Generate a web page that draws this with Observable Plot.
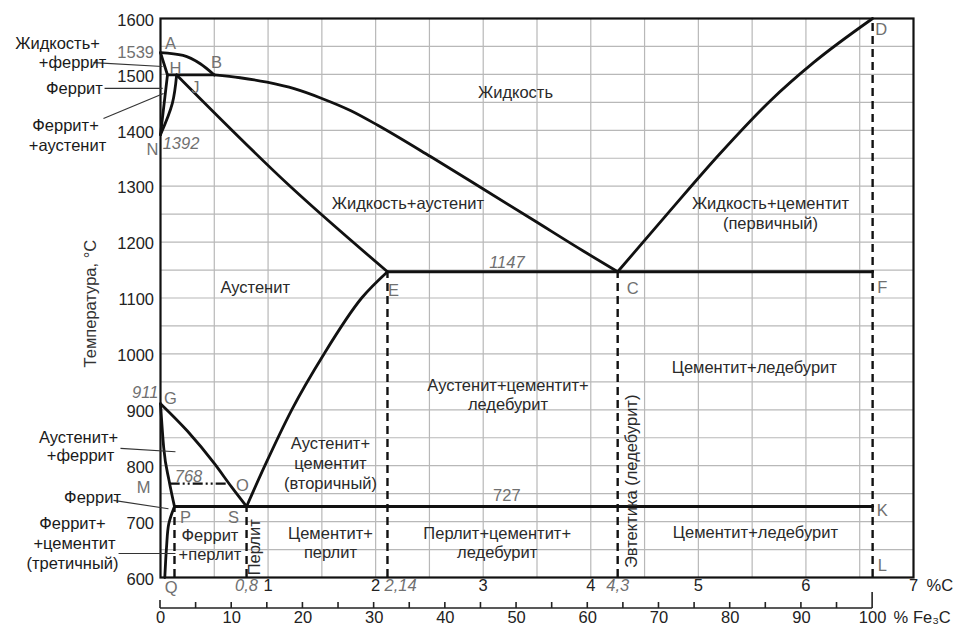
<!DOCTYPE html>
<html><head><meta charset="utf-8">
<script src="https://cdn.jsdelivr.net/npm/d3@7"></script>
<script src="https://cdn.jsdelivr.net/npm/@observablehq/plot@0.6"></script>
<style>body{margin:0;background:#fff}#chart{width:956px;height:629px}</style>
</head><body><div id="chart"></div>
<script>
// ---------- data ----------
const FE3C_C = 6.62;           // %C of cementite as drawn
const E_C = 2.11, C_C = 4.25;  // E and C points as drawn
const yTicks = [600,700,800,900,1000,1100,1200,1300,1400,1500,1600];
const gridX = [0.5,1,1.5,2,2.5,3,3.5,4,4.5,5,5.5,6,6.5];
const gridY = [650,700,750,800,850,900,950,1000,1050,1100,1150,1200,1250,1300,1350,1400,1450,1500,1550];
const cTicks = [1,2,3,4,5,6,7];
const cSpecialMid = [{x:0.8,t:"0,8"},{x:C_C,t:"4,3"}];
const cSpecialStart = [{x:E_C,t:"2,14"}];
const fe3cTicks = [0,5,10,15,20,25,30,35,40,45,50,55,60,65,70,75,80,85,90,95,100];
const fe3cLabels = [0,10,20,30,40,50,60,70,80,90,100];

// curves with increasing %C (drawn smooth, monotone in x)
const curveAB = [[0,1539],[0.21,1534],[0.37,1519],[0.5,1499]];
const curveBC = [[0.5,1499],[0.74,1494],[0.99,1486],[1.25,1474],[1.5,1457],[1.77,1435],[2.02,1409],[2.51,1353],[3.0,1295],[3.47,1239],[3.93,1184],[C_C,1147]];
const curveCD = [[C_C,1147],[4.71,1250],[5.2,1358],[5.67,1453],[6.07,1521],[FE3C_C,1600]];
const curveAH = [[0,1539],[0.065,1499]];
const curveHB = [[0.065,1499],[0.5,1499]];
const curveJE = [[0.15,1499],[1.21,1299],[E_C,1147]];
const curveECF = [[E_C,1147],[FE3C_C,1147]];
const curveGS = [[0,911],[0.25,862],[0.5,804],[0.66,762],[0.8,727]];
const curveGP = [[0,911],[0.03,832],[0.08,773],[0.13,727]];
const curvePSK = [[0.13,727],[FE3C_C,727]];
const curveSE = [[0.8,727],[0.97,800],[1.22,900],[1.52,1000],[1.87,1100],[E_C,1147]];
// curves running back toward 0 %C
const curveHN = [[0.065,1499],[0,1392]];
const curveJN = [[0.15,1499],[0.11,1448],[0,1392]];
const curvePQ = [[0.13,727],[0.077,696],[0.056,654],[0.04,600]];
const lineMO = [{x1:0.09,x2:0.62,T:768}];

const dashed = [
  {x:0.13,T1:600,T2:727},{x:0.8,T1:600,T2:727},{x:E_C,T1:600,T2:1147},
  {x:C_C,T1:600,T2:1147},{x:FE3C_C,T1:600,T2:1600}
];

const letters = [
  ["A",0.093,1555],["B",0.52,1521],["H",0.14,1511],["J",0.325,1477],["N",-0.074,1366],
  ["D",6.70,1580],["C",4.39,1117],["E",2.165,1113],["F",6.71,1119],["G",0.093,920],
  ["M",-0.158,761],["O",0.762,765],["S",0.678,707],["P",0.232,707],["K",6.71,720],
  ["L",6.71,621],["Q",0.10,582]
];
const italicStart = [["1392",0.02,1376]];
const italicEnd = [["911",-0.02,931]];
const italicMid = [["768",0.26,781],["1147",3.22,1163]];
const plainEnd = [["1539",-0.06,1539]];
const plainMid = [["727",3.22,747]];

const regions = [
  ["Жидкость",3.30,1468],
  ["Жидкость+аустенит",2.30,1269],
  ["Жидкость+цементит",5.67,1269],["(первичный)",5.67,1233],
  ["Аустенит",0.88,1119],
  ["Аустенит+цементит+",3.23,943],["ледебурит",3.23,909],
  ["Цементит+ледебурит",5.52,976],
  ["Аустенит+",1.58,840],["цементит",1.58,804],["(вторичный)",1.58,768],
  ["Цементит+",1.58,679],["перлит",1.58,645],
  ["Перлит+цементит+",3.13,679],["ледебурит",3.13,645],
  ["Цементит+ледебурит",5.53,681],
  ["Феррит",0.46,675],["+перлит",0.46,641]
];
const rotated = [["Перлит",0.88,654],["Эвтектика (ледебурит)",4.38,772]];
const leftLabels = [
  ["Жидкость+",-0.957,1555],["+феррит",-0.818,1521],["Феррит",-0.80,1475],
  ["Феррит+",-0.883,1409],["+аустенит",-0.864,1373],
  ["Аустенит+",-0.762,850],["+феррит",-0.743,818],["Феррит",-0.632,743],
  ["Феррит+",-0.818,697],["+цементит",-0.80,661],["(третичный)",-0.818,625]
];
const leaders = [
  [-0.623,1521,0.019,1514],[-0.52,1475,0.02,1475],[-0.53,1421,0.028,1466],
  [-0.372,831,0.139,825],[-0.437,738,0.074,723],[-0.39,643,0.139,643]
];

// ---------- build ----------
const toRows = obj => Object.entries(obj).flatMap(([id,pts]) => pts.map(([x,T]) => ({id,x,T})));
const rowsFwd = toRows({AB:curveAB,BC:curveBC,CD:curveCD,AH:curveAH,HB:curveHB,JE:curveJE,ECF:curveECF,GS:curveGS,GP:curveGP,PSK:curvePSK,SE:curveSE});
const rowsBack = toRows({HN:curveHN,JN:curveJN,PQ:curvePQ});
const font = "Liberation Sans, Arial, Helvetica, sans-serif";
const FS = 16.5;
const gray = "#707070";

function fe3cAxis(index, scales, values, dims) {
  const g = d3.create("svg:g").attr("stroke","#222").attr("fill","none");
  const y0 = dims.height - dims.marginBottom + 31;
  g.append("line").attr("x1",scales.x(0)).attr("x2",scales.x(FE3C_C)).attr("y1",y0).attr("y2",y0).attr("stroke-width",1.6);
  for (const v of fe3cTicks) {
    const X = scales.x(v/100*FE3C_C);
    const len = v === 100 ? 16 : (v === 0 ? 8 : 6);
    g.append("line").attr("x1",X).attr("x2",X).attr("y1",y0).attr("y2",y0-len).attr("stroke-width",1.6);
  }
  return g.node();
}
const tx = (arr, opts) => Plot.text(arr, {x: d=>d[1], y: d=>d[2], text: d=>d[0], fontSize: FS, ...opts});
const lineStyle = {x: "x", y: "T", z: "id", stroke: "#111", strokeWidth: 2.8, strokeLinejoin: "round", strokeLinecap: "round"};

const chart = Plot.plot({
  width: 956, height: 629,
  marginLeft: 160, marginRight: 43, marginTop: 18, marginBottom: 52,
  x: {domain: [0,7], axis: null},
  y: {domain: [600,1600], axis: null},
  style: {fontFamily: font, background: "#fff", overflow: "visible"},
  marks: [
    Plot.ruleX(gridX, {stroke: "#b8b8b8", strokeWidth: 1.2}),
    Plot.ruleY(gridY, {stroke: "#b8b8b8", strokeWidth: 1.2}),
    Plot.ruleX(dashed, {x: "x", y1: "T1", y2: "T2", stroke: "#111", strokeWidth: 2.4, strokeDasharray: "8,5"}),
    Plot.ruleY(lineMO, {y: "T", x1: "x1", x2: "x2", stroke: "#111", strokeWidth: 2.2, strokeDasharray: "10,3,2,3,2,3"}),
    Plot.line(rowsFwd, {...lineStyle, curve: "monotone-x"}),
    Plot.line(rowsBack, {...lineStyle, curve: "catmull-rom"}),
    Plot.frame({stroke: "#111", strokeWidth: 2.2}),
    Plot.link(leaders, {x1: d=>d[0], y1: d=>d[1], x2: d=>d[2], y2: d=>d[3], stroke: "#333", strokeWidth: 1.1}),
    // y tick labels
    Plot.text(yTicks, {x: -0.06, y: d=>d, text: d=>String(d), textAnchor: "end", dy: 2, fontSize: FS, fill: "#222"}),
    Plot.text(["Температура, °C"], {x: -0.65, y: 1090, text: d=>d, rotate: -90, fontSize: FS, fill: "#333"}),
    // %C labels
    Plot.text(cTicks, {x: d=>d, text: d=>String(d), frameAnchor: "bottom", dy: 13, fontSize: FS, fill: "#222"}),
    Plot.text(cSpecialMid, {x: "x", text: "t", frameAnchor: "bottom", dy: 13, fontSize: FS, fill: gray, fontStyle: "italic"}),
    Plot.text(cSpecialStart, {x: "x", text: "t", textAnchor: "start", dx: -3, frameAnchor: "bottom", dy: 13, fontSize: FS, fill: gray, fontStyle: "italic"}),
    Plot.text(["%C"], {x: 7, text: d=>d, frameAnchor: "bottom", dy: 13, dx: 13, textAnchor: "start", fontSize: FS, fill: "#222"}),
    // Fe3C axis
    fe3cAxis,
    Plot.text(fe3cLabels, {x: d=>d/100*FE3C_C, text: d=>String(d), frameAnchor: "bottom", dy: 45, fontSize: FS, fill: "#222"}),
    Plot.text(["% Fe₃C"], {x: FE3C_C, text: d=>d, frameAnchor: "bottom", dy: 45, dx: 21, textAnchor: "start", fontSize: FS, fill: "#222"}),
    // point letters and numbers
    tx(letters, {fill: gray}),
    tx(italicStart, {fill: gray, fontStyle: "italic", textAnchor: "start"}),
    tx(italicEnd, {fill: gray, fontStyle: "italic", textAnchor: "end"}),
    tx(italicMid, {fill: gray, fontStyle: "italic"}),
    tx(plainEnd, {fill: gray, textAnchor: "end"}),
    tx(plainMid, {fill: gray}),
    // region labels
    tx(regions, {fill: "#2a2a2a"}),
    tx(rotated, {fill: "#2a2a2a", rotate: -90}),
    tx(leftLabels, {fill: "#1a1a1a"})
  ]
});
document.getElementById("chart").append(chart);
</script>
</body></html>
